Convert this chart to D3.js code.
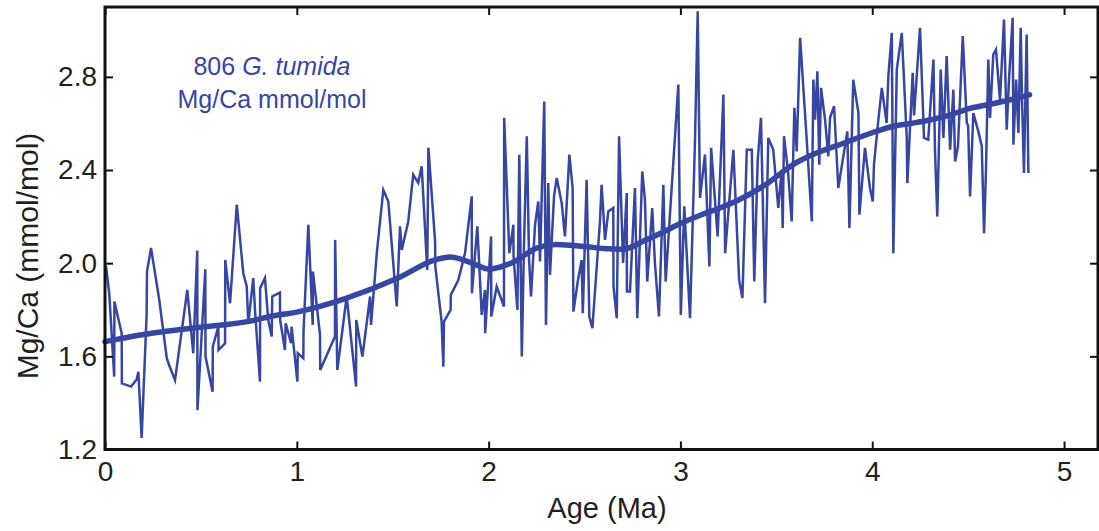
<!DOCTYPE html>
<html>
<head>
<meta charset="utf-8">
<script src="https://cdn.jsdelivr.net/npm/d3@7"></script>
<style>
body { margin: 0; background: #fff; }
svg { display: block; }
text { font-family: "Liberation Sans", Arial, Helvetica, sans-serif; }
</style>
</head>
<body>
<script>
///////////////////   Data   /////////////////

// Raw 806 G. tumida Mg/Ca record, age (Ma)
var ages = [
  0.005,0.022,0.048,0.049,0.087,0.088,0.136,0.165,0.174,0.191,
  0.217,0.219,0.240,0.283,0.322,0.334,0.365,0.429,0.460,0.481,
  0.482,0.523,0.524,0.561,0.562,0.591,0.592,0.626,0.627,0.652,
  0.687,0.721,0.739,0.747,0.773,0.782,0.808,0.809,0.834,0.851,
  0.869,0.872,0.912,0.913,0.938,0.942,0.970,0.973,1.003,1.005,
  1.034,1.035,1.060,1.083,1.084,1.121,1.122,1.199,1.200,1.211,
  1.260,1.309,1.310,1.342,1.382,1.387,1.417,1.451,1.477,1.521,
  1.538,1.547,1.581,1.607,1.633,1.651,1.680,1.686,1.721,1.722,
  1.755,1.764,1.767,1.802,1.803,1.842,1.877,1.912,1.913,1.941,
  1.964,1.981,1.982,2.013,2.014,2.042,2.080,2.081,2.108,2.129,
  2.130,2.150,2.160,2.173,2.185,2.199,2.211,2.221,2.242,2.259,
  2.268,2.290,2.299,2.311,2.320,2.341,2.355,2.381,2.398,2.421,
  2.438,2.442,2.466,2.485,2.491,2.511,2.525,2.541,2.581,2.589,
  2.607,2.624,2.650,2.651,2.668,2.680,2.701,2.720,2.721,2.737,
  2.763,2.775,2.801,2.815,2.827,2.853,2.867,2.888,2.911,2.923,
  2.946,2.989,3.002,3.020,3.050,3.076,3.090,3.102,3.128,3.151,
  3.160,3.194,3.224,3.233,3.276,3.306,3.323,3.346,3.372,3.385,
  3.403,3.420,3.441,3.458,3.484,3.510,3.528,3.533,3.540,3.561,
  3.580,3.594,3.606,3.624,3.655,3.685,3.693,3.702,3.714,3.724,
  3.733,3.754,3.771,3.780,3.801,3.823,3.870,3.881,3.901,3.928,
  3.933,3.962,3.988,4.003,4.009,4.032,4.050,4.075,4.084,4.102,
  4.110,4.128,4.154,4.180,4.183,4.211,4.218,4.249,4.270,4.292,
  4.319,4.327,4.339,4.357,4.371,4.388,4.406,4.423,4.432,4.447,
  4.472,4.493,4.500,4.510,4.527,4.553,4.571,4.583,4.593,4.605,
  4.614,4.631,4.645,4.666,4.687,4.701,4.713,4.732,4.736,4.750,
  4.762,4.774,4.781,4.791,4.805,4.814
];

// Mg/Ca (mmol/mol), same order as ages
var mgca = [
  1.989,1.871,1.513,1.835,1.699,1.484,1.470,1.501,1.534,1.250,
  1.778,1.964,2.065,1.842,1.592,1.563,1.498,1.885,1.613,2.054,
  1.369,1.974,1.599,1.448,1.642,1.728,1.627,1.656,2.014,1.828,
  2.251,1.957,1.900,1.742,1.936,1.799,1.491,1.893,1.936,1.756,
  1.685,1.857,1.874,1.756,1.627,1.742,1.657,1.728,1.491,1.613,
  1.592,1.706,2.165,1.735,1.964,1.692,1.541,1.685,2.100,1.541,
  1.857,1.470,1.756,1.599,1.857,1.735,2.043,2.315,2.265,1.814,
  2.158,2.057,2.179,2.380,2.345,2.416,1.971,2.496,2.093,1.986,
  1.749,1.556,1.749,1.799,1.864,1.928,2.043,2.287,1.871,2.158,
  1.778,1.885,1.699,2.115,1.771,1.900,1.814,2.624,2.043,2.165,
  2.029,1.799,2.466,1.599,2.100,2.545,2.014,1.857,2.165,2.265,
  2.007,2.694,1.735,2.344,1.950,2.287,2.366,2.258,2.115,2.466,
  2.323,1.792,1.928,2.014,1.785,2.358,1.771,1.721,2.186,2.337,
  2.100,2.222,2.237,1.900,1.764,2.545,2.001,2.301,1.878,1.878,
  2.323,1.764,2.394,2.272,1.921,2.237,2.001,1.771,2.337,1.921,
  2.216,2.767,1.778,2.244,1.764,2.530,3.082,2.280,2.466,1.986,
  2.495,2.115,2.724,2.043,2.487,1.928,1.850,2.487,2.487,1.921,
  2.444,2.624,1.828,2.538,2.487,2.237,2.401,2.151,2.545,2.393,
  2.179,2.667,2.480,2.968,2.573,2.179,2.788,2.616,2.824,2.423,
  2.753,2.616,2.459,2.624,2.674,2.323,2.566,2.151,2.788,2.645,
  2.208,2.495,2.323,2.265,2.423,2.616,2.753,2.602,2.803,2.989,
  2.043,2.831,2.989,2.538,2.344,2.817,2.634,3.011,2.538,2.530,
  2.874,2.487,2.201,2.831,2.538,2.889,2.487,2.745,2.437,2.502,
  2.975,2.602,2.590,2.287,2.645,2.566,2.502,2.129,2.401,2.874,
  2.624,2.896,2.917,2.702,3.046,2.573,2.788,3.054,2.509,2.788,
  2.559,3.011,2.702,2.387,2.982,2.387
];

// Smoothed curve
var smoothAges = [0,0.25,0.5,0.75,0.86,1.0,1.26,1.53,1.72,1.8,1.9,2.0,2.13,2.25,2.35,
                  2.5,2.6,2.7,2.82,2.9,3.0,3.1,3.2,3.3,3.44,3.6,3.7,3.85,4.0,4.1,4.2,
                  4.3,4.4,4.51,4.6,4.68,4.82];
var smoothMgca = [1.663,1.70,1.725,1.75,1.771,1.79,1.85,1.937,2.014,2.027,2.005,1.975,2.005,2.065,2.08,
                  2.072,2.063,2.06,2.10,2.13,2.17,2.205,2.235,2.27,2.335,2.43,2.47,2.515,2.56,2.586,2.60,
                  2.615,2.635,2.665,2.68,2.694,2.723];

var xTicks = [0,1,2,3,4,5],
    yTicks = [1.2,1.6,2.0,2.4,2.8];

////////////////    Parameters    //////////////

var width = 1099, height = 531,
    margin = {left: 105, top: 7, right: 1, bottom: 81.5},
    lineColor = "#3646a2",
    tickLen = 8;

////////////////    Main rendering    //////////////

var svg = d3.select("body").append("svg")
    .attr("width", width)
    .attr("height", height);

var x = d3.scaleLinear().domain([0, 5.177]).range([margin.left, width - margin.right]);
var y = d3.scaleLinear().domain([1.2, 3.10]).range([height - margin.bottom, margin.top]);

var raw = ages.map(function(a, i) { return [a, mgca[i]]; });
var smooth = smoothAges.map(function(a, i) { return [a, smoothMgca[i]]; });

// raw record
svg.append("path")
    .datum(raw)
    .attr("fill", "none")
    .attr("stroke", lineColor)
    .attr("stroke-width", 2.5)
    .attr("d", d3.line().x(function(d) { return x(d[0]); }).y(function(d) { return y(d[1]); }));

// smoothed record
svg.append("path")
    .datum(smooth)
    .attr("fill", "none")
    .attr("stroke", lineColor)
    .attr("stroke-width", 5.5)
    .attr("stroke-linecap", "round")
    .attr("d", d3.line().curve(d3.curveMonotoneX)
        .x(function(d) { return x(d[0]); }).y(function(d) { return y(d[1]); }));

// axes, ticks pointing inward on all four sides
var axisB = svg.append("g")
    .attr("transform", "translate(0," + y.range()[0] + ")")
    .call(d3.axisBottom(x).tickValues(xTicks).tickSize(-tickLen).tickPadding(12).tickFormat(d3.format("d")));
var axisL = svg.append("g")
    .attr("transform", "translate(" + x.range()[0] + ",0)")
    .call(d3.axisLeft(y).tickValues(yTicks).tickSize(-tickLen).tickPadding(8).tickFormat(d3.format(".1f")));
var axisT = svg.append("g")
    .attr("transform", "translate(0," + y.range()[1] + ")")
    .call(d3.axisTop(x).tickValues(xTicks).tickSize(-tickLen).tickFormat(""));
var axisR = svg.append("g")
    .attr("transform", "translate(" + x.range()[1] + ",0)")
    .call(d3.axisRight(y).tickValues(yTicks).tickSize(-tickLen).tickFormat(""));

[axisB, axisL, axisT, axisR].forEach(function(g) {
    g.select(".domain").remove();
    g.selectAll(".tick line").attr("stroke", "#111").attr("stroke-width", 2);
    g.selectAll(".tick text")
        .attr("fill", "#231f20")
        .style("font-size", "28px")
        .style("font-family", "'Liberation Sans', Arial, sans-serif");
});

// frame
svg.append("rect")
    .attr("x", x.range()[0])
    .attr("y", y.range()[1])
    .attr("width", x.range()[1] - x.range()[0])
    .attr("height", y.range()[0] - y.range()[1])
    .attr("fill", "none")
    .attr("stroke", "#111")
    .attr("stroke-width", 3);

// axis titles
svg.append("text")
    .attr("x", 607)
    .attr("y", 518)
    .attr("text-anchor", "middle")
    .attr("fill", "#231f20")
    .style("font-size", "29px")
    .text("Age (Ma)");

svg.append("text")
    .attr("transform", "translate(38,256) rotate(-90)")
    .attr("text-anchor", "middle")
    .attr("fill", "#231f20")
    .style("font-size", "30px")
    .text("Mg/Ca (mmol/mol)");

// in-plot label
var label = svg.append("text")
    .attr("x", 272)
    .attr("y", 75)
    .attr("text-anchor", "middle")
    .attr("fill", lineColor)
    .style("font-size", "25px");
label.append("tspan").text("806 ");
label.append("tspan").style("font-style", "italic").text("G. tumida");

svg.append("text")
    .attr("x", 272)
    .attr("y", 108)
    .attr("text-anchor", "middle")
    .attr("fill", lineColor)
    .style("font-size", "25px")
    .text("Mg/Ca mmol/mol");
</script>
</body>
</html>
